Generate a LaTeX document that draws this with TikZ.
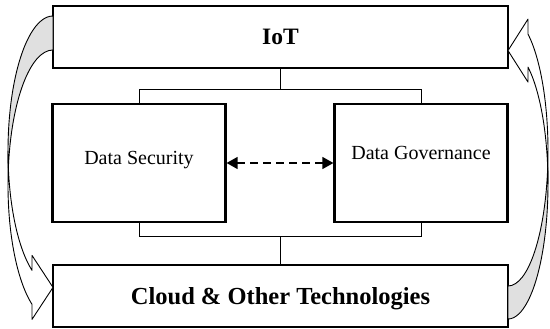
\documentclass[tikz,border=0pt]{standalone}
\usepackage{fontspec}
\setmainfont{Liberation Serif}
\usetikzlibrary{arrows.meta}

\definecolor{ribbongray}{gray}{0.88}

\tikzset{
  widebox/.style={draw, line width=2.2pt, minimum width=455pt, minimum height=62pt,
    inner sep=0pt, font=\bfseries},
  databox/.style={draw, line width=2.2pt, minimum width=173pt, minimum height=118pt},
  datatext/.style={font=\fontsize{20}{24}\selectfont, inner sep=0pt},
  bus/.style={line width=1pt},
  stem/.style={line width=1.6pt},
  dasharrow/.style={line width=1.3pt, dash pattern=on 8pt off 5pt,
    {Triangle[length=11pt,width=12pt]}-{Triangle[length=11pt,width=12pt]}},
  ribbon/.style={line width=0.9pt, line join=round},
}

% curved ribbon arrow: #1 x radius, #2 y radius, #3 band, #4 head length, #5 barb
\newcommand{\ribbonarrow}[5]{%
  \pgfmathsetmacro{\ra}{acos(#4/#1)}%
  \pgfmathsetmacro{\rd}{asin(#3/(2*#2))}%
  % front part with head
  \draw[ribbon, fill=white] (-#1,-#2)
    arc[start angle=180, end angle=180+\ra, x radius=#1, y radius=#2]
    -- ++(0,#5) -- ++(#4,-#5-#3/2) -- ++(-#4,-#5-#3/2) -- ++(0,#5)
    arc[start angle=180+\ra, end angle=180, x radius=#1, y radius=#2]
    -- cycle;
  % back part
  \draw[ribbon, fill=ribbongray] (0,0)
    arc[start angle=90, end angle=180+\rd, x radius=#1, y radius=#2]
    arc[start angle=180-\rd, end angle=90, x radius=#1, y radius=#2]
    -- cycle;
}

\begin{document}
\begin{tikzpicture}[x=1pt, y=1pt]
\useasboundingbox (0,0) rectangle (550,329);

% boxes
\node[widebox] (iot) at (280.5,292) {\fontsize{23.5}{27}\selectfont IoT};
\node[widebox, text depth=0pt] (cloud) at (280.5,33)
  {\fontsize{24.5}{29}\selectfont Cloud \& Other Technologies};
\node[databox] (dsec) at (139,166) {};
\node[databox] (dgov) at (421,166) {};
\node[datatext, anchor=base] (dsectext) at ([yshift=-2]dsec.center) {Data Security};
\node[datatext, anchor=base] (dgovtext) at ([yshift=3.7]dgov.center) {Data Governance};

% brackets
\coordinate (topbus) at ([yshift=-20]iot.south);
\coordinate (botbus) at ([yshift=27]cloud.north);
\draw[bus] (dsec.north) |- (topbus) -| (dgov.north);
\draw[bus] (dsec.south) |- (botbus) -| (dgov.south);
\draw[stem] (iot.south) -- (topbus);
\draw[stem] (cloud.north) -- (botbus);

\draw[dasharrow] (dsec.east) -- (dgov.west);

% side arrows
\begin{scope}[shift={(53,313)}]
  \ribbonarrow{45}{135}{34}{21}{15}
\end{scope}
\begin{scope}[shift={(508,10)}, rotate=180]
  \ribbonarrow{40}{135}{33}{20}{15}
\end{scope}
\end{tikzpicture}
\end{document}
